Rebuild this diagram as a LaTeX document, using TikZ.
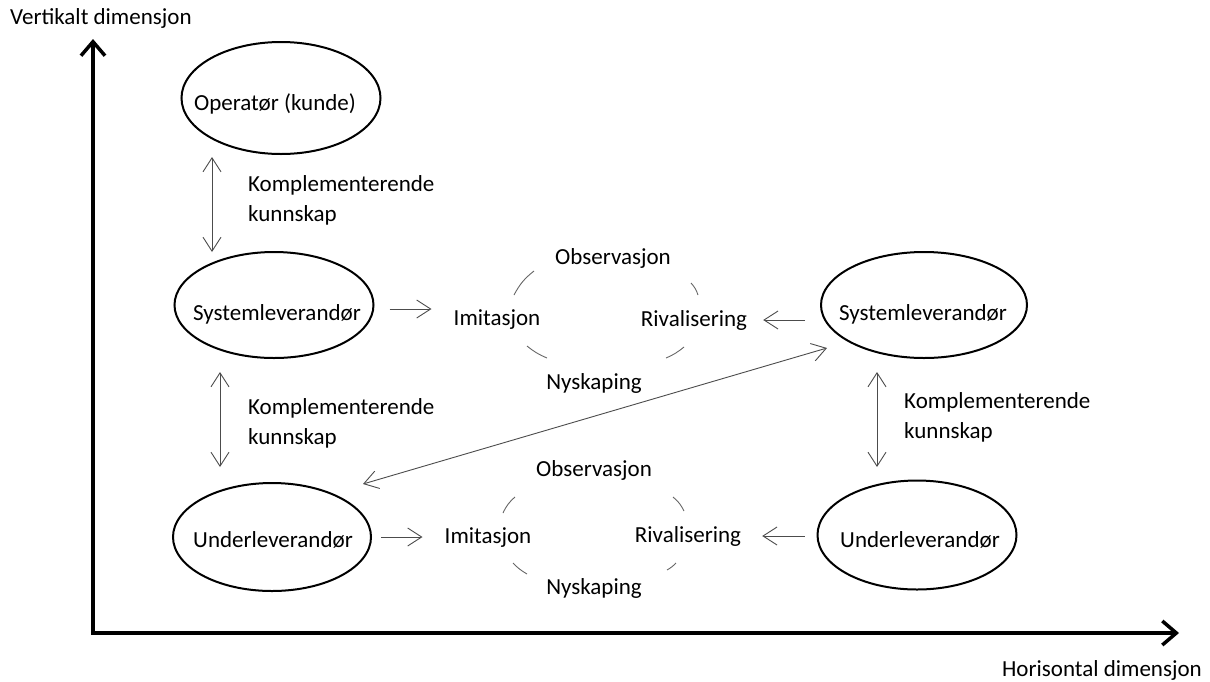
\documentclass[tikz,border=0pt]{standalone}
\usepackage{fontspec}
\setmainfont{Carlito}
\usetikzlibrary{shapes.geometric}
\usetikzlibrary{arrows.meta}

\tikzset{
  aktor/.style={draw, ellipse, line width=2pt, inner sep=0pt},
  tekst/.style={inner sep=0pt, font=\fontsize{23}{30}\selectfont},
  pil/.style={draw=black!70, line width=0.9pt, -{Straight Barb[length=14pt,width=18pt]}},
  dobbel/.style={draw=black!70, line width=0.9pt, {Straight Barb[length=14pt,width=18pt]}-{Straight Barb[length=14pt,width=18pt]}},
  bue/.style={draw=black!60, line width=0.9pt},
  akse/.style={line width=3.5pt, -{Straight Barb[length=14pt,width=24pt]}}
}

\begin{document}
\begin{tikzpicture}[x=1pt, y=-1pt]
\useasboundingbox (0,0) rectangle (1210,681);
% axes
\coordinate (origo) at (93,633);
\coordinate (ytopp) at (93,39);
\coordinate (xende) at (1179,633);
\draw[akse] (origo) -- (ytopp);
\draw[akse] ([xshift=-1.75pt]origo) -- (xende);
\node[tekst, anchor=west] (vdim) at (10,18) {Vertikalt dimensjon};
\node[tekst, anchor=east] (hdim) at (1202,670) {Horisontal dimensjon};
% actors
\node[aktor, minimum width=199pt, minimum height=112pt] (op) at (281,98) {};
\node[aktor, minimum width=199pt, minimum height=106pt] (sysL) at (274,305) {};
\node[aktor, minimum width=198pt, minimum height=108pt] (uL) at (272,537) {};
\node[aktor, minimum width=206pt, minimum height=106pt] (sysR) at (924,305) {};
\node[aktor, minimum width=199pt, minimum height=109pt] (uR) at (917,535) {};
\node[tekst] (opT) at (275,104) {Operatør (kunde)};
\node[tekst] (sysLT) at (277,314) {Systemleverandør};
\node[tekst] (uLT) at (273,540) {Underleverandør};
\node[tekst] (sysRT) at (923,314) {Systemleverandør};
\node[tekst] (uRT) at (920,540) {Underleverandør};
% complementary knowledge
\coordinate (k1a) at (212,157);
\coordinate (k1b) at (212,252);
\coordinate (k2a) at (220,372);
\coordinate (k2b) at (220,467);
\coordinate (k3a) at (877,372);
\coordinate (k3b) at (877,467);
\draw[dobbel] (k1a) -- (k1b);
\draw[dobbel] (k2a) -- (k2b);
\draw[dobbel] (k3a) -- (k3b);
\node[tekst, anchor=west, align=left] (komp1) at (248,200) {Komplementerende\\kunnskap};
\node[tekst, anchor=west, align=left] (komp2) at (248,423) {Komplementerende\\kunnskap};
\node[tekst, anchor=west, align=left] (komp3) at (904,417) {Komplementerende\\kunnskap};
% upper cycle
\node[tekst] (obsA) at (613,258) {Observasjon};
\node[tekst] (imA) at (497,320) {Imitasjon};
\node[tekst] (rivA) at (694,320) {Rivalisering};
\node[tekst] (nyA) at (594,383) {Nyskaping};
\draw[bue] (534,271) to[bend right=12] (514,295);
\draw[bue] (691,283) to[bend left=12] (698,295);
\draw[bue] (527,346) to[bend right=8] (547,358);
\draw[bue] (684,347) to[bend left=8] (666,358);
% lower cycle
\node[tekst] (obsB) at (594,470) {Observasjon};
\node[tekst] (imB) at (488,538) {Imitasjon};
\node[tekst] (rivB) at (688,536) {Rivalisering};
\node[tekst] (nyB) at (594,588) {Nyskaping};
\draw[bue] (515,497) to[bend right=12] (503,513);
\draw[bue] (673,497) to[bend left=12] (684,511);
\draw[bue] (513,563) to[bend right=8] (527,574);
\draw[bue] (676,563) to[bend left=8] (667,570);
% arrows into the cycles
\draw[pil, shorten <=15pt, shorten >=22pt] ([yshift=-4pt]sysL.east) -- ([yshift=-4pt]sysL.east -| imA.west);
\draw[pil, shorten <=15pt, shorten >=16pt] (sysR.west |- rivA) -- (rivA.east);
\draw[pil, shorten <=9pt, shorten >=22pt] (uL.east) -- (imB.west |- uL.east);
\draw[pil, shorten <=12pt, shorten >=21pt] (uR.west |- rivB) -- (rivB.east);
% diagonal
\coordinate (d1) at (363,484);
\coordinate (d2) at (827,348);
\draw[dobbel] (d1) -- (d2);
\end{tikzpicture}
\end{document}
